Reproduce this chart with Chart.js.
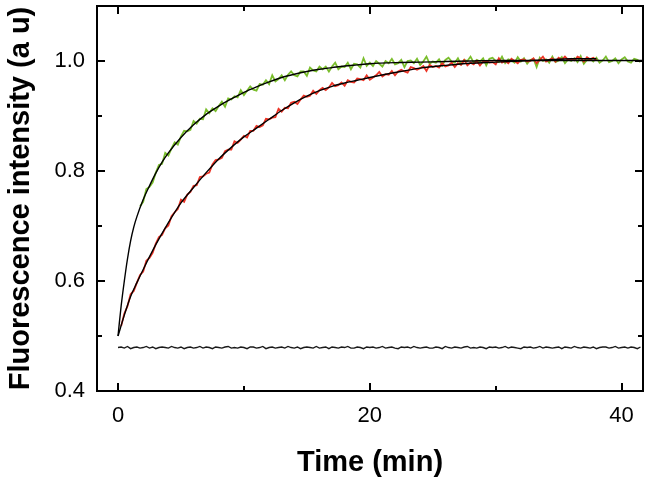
<!DOCTYPE html>
<html>
<head>
<meta charset="utf-8">
<title>Fluorescence kinetics</title>
<script src="https://cdn.jsdelivr.net/npm/chart.js@4.4.1/dist/chart.umd.min.js"></script>
<style>
    html, body { margin: 0; padding: 0; background: #ffffff; }
    #chart-wrap { width: 650px; height: 483px; position: relative; }
</style>
</head>
<body>
<div id="chart-wrap"><canvas id="kinetics-chart"></canvas></div>
<script>
// Traces were recorded every 0.25 min
const SAMPLE_STEP = 0.25;

// Axis ticks
const xLabelTicks = [0, 20, 40];
const xMinorTicks = [10, 30];
const yLabelTicks = [0.4, 0.6, 0.8, 1.0];
const yMinorTicks = [0.5, 0.7, 0.9];

// Green trace (starts at 1.75 min)
const greenStart = 1.75;
const greenTrace = [
    0.736, 0.744, 0.767, 0.771, 0.779, 0.797, 0.811, 0.813, 0.833, 0.828,
    0.841, 0.852, 0.848, 0.863, 0.873, 0.872, 0.875, 0.891, 0.886, 0.895,
    0.894, 0.912, 0.905, 0.914, 0.909, 0.918, 0.926, 0.917, 0.932, 0.930,
    0.936, 0.934, 0.947, 0.938, 0.946, 0.954, 0.948, 0.946, 0.958, 0.957,
    0.965, 0.958, 0.974, 0.963, 0.967, 0.974, 0.965, 0.975, 0.981, 0.974,
    0.972, 0.981, 0.981, 0.973, 0.988, 0.983, 0.981, 0.990, 0.985, 0.990,
    0.981, 0.990, 0.997, 0.985, 0.990, 0.989, 0.997, 0.985, 0.995, 0.994,
    0.988, 1.005, 0.991, 0.997, 0.991, 1.000, 0.995, 0.990, 1.000, 0.996,
    1.004, 0.994, 0.996, 1.002, 0.989, 1.000, 1.001, 0.996, 1.004, 0.993,
    0.999, 1.008, 0.995, 0.999, 0.997, 1.003, 0.992, 1.002, 1.006, 0.999,
    0.997, 1.005, 0.994, 1.002, 1.000, 1.008, 0.997, 1.002, 0.999, 1.005,
    0.992, 1.004, 1.006, 1.000, 0.998, 1.008, 0.996, 1.003, 1.001, 0.997,
    1.007, 0.999, 1.005, 0.995, 1.002, 1.004, 0.989, 1.006, 1.000, 1.003,
    0.997, 1.008, 0.998, 1.001, 1.007, 0.996, 1.003, 1.000, 1.005, 0.998,
    1.009, 0.995, 1.002, 1.004, 0.999, 1.006, 0.997, 1.001, 1.008, 0.998,
    1.000, 1.005, 0.996, 1.003, 1.007, 0.999, 0.997, 1.004, 1.002, 0.998
];

// Red trace (starts at 0.25 min)
const redStart = 0.25;
const redTrace = [
    0.518, 0.541, 0.554, 0.576, 0.582, 0.597, 0.611, 0.617, 0.637, 0.642,
    0.651, 0.668, 0.680, 0.684, 0.696, 0.701, 0.718, 0.725, 0.731, 0.748,
    0.744, 0.757, 0.762, 0.773, 0.774, 0.789, 0.790, 0.795, 0.797, 0.812,
    0.820, 0.821, 0.824, 0.836, 0.839, 0.839, 0.854, 0.851, 0.857, 0.864,
    0.861, 0.873, 0.873, 0.882, 0.880, 0.883, 0.895, 0.894, 0.897, 0.898,
    0.913, 0.908, 0.915, 0.914, 0.924, 0.926, 0.922, 0.930, 0.937, 0.935,
    0.937, 0.946, 0.940, 0.947, 0.951, 0.947, 0.952, 0.960, 0.954, 0.956,
    0.961, 0.955, 0.965, 0.962, 0.961, 0.968, 0.967, 0.965, 0.974, 0.966,
    0.970, 0.974, 0.980, 0.972, 0.976, 0.975, 0.982, 0.974, 0.981, 0.984,
    0.981, 0.979, 0.989, 0.987, 0.984, 0.987, 0.991, 0.982, 0.993, 0.989,
    0.991, 0.988, 0.996, 0.990, 0.992, 0.997, 0.989, 0.996, 0.993, 1.002,
    0.992, 0.997, 0.994, 1.000, 0.992, 0.999, 1.000, 0.997, 0.998, 0.994,
    1.005, 0.997, 1.000, 0.996, 1.004, 1.000, 0.996, 1.002, 1.003, 0.999,
    1.000, 1.005, 0.996, 1.002, 1.008, 0.999, 1.002, 1.005, 0.999, 1.006,
    1.002, 1.008, 1.002, 1.004, 1.001, 1.008, 1.005, 0.999, 1.007, 1.003,
    1.006, 1.002
];

// Black baseline trace (starts at 0 min)
const baselineStart = 0;
const baselineTrace = [
    0.479, 0.480, 0.478, 0.481, 0.477, 0.479, 0.480, 0.478, 0.479, 0.481, 0.478, 0.480, 0.477, 0.479, 0.480, 0.479, 0.478, 0.481, 0.479, 0.478,
    0.480, 0.477, 0.479, 0.480, 0.478, 0.479, 0.481, 0.478, 0.480, 0.479, 0.477, 0.480, 0.479, 0.478, 0.480, 0.481, 0.478, 0.479, 0.478, 0.480,
    0.479, 0.477, 0.480, 0.480, 0.478, 0.479, 0.481, 0.477, 0.479, 0.480, 0.478, 0.479, 0.480, 0.478, 0.481, 0.479, 0.478, 0.480, 0.477, 0.479,
    0.480, 0.479, 0.478, 0.481, 0.478, 0.479, 0.480, 0.477, 0.480, 0.479, 0.478, 0.480, 0.479, 0.481, 0.478, 0.478, 0.480, 0.479, 0.477, 0.480,
    0.479, 0.480, 0.478, 0.479, 0.481, 0.478, 0.479, 0.480, 0.478, 0.477, 0.480, 0.479, 0.480, 0.478, 0.481, 0.479, 0.478, 0.479, 0.480, 0.478,
    0.478, 0.480, 0.479, 0.477, 0.481, 0.479, 0.478, 0.480, 0.479, 0.478, 0.480, 0.481, 0.478, 0.479, 0.478, 0.480, 0.479, 0.477, 0.480, 0.479,
    0.480, 0.478, 0.479, 0.481, 0.478, 0.480, 0.479, 0.478, 0.477, 0.480, 0.479, 0.480, 0.478, 0.479, 0.481, 0.478, 0.480, 0.479, 0.478, 0.479,
    0.480, 0.477, 0.480, 0.479, 0.478, 0.481, 0.479, 0.478, 0.480, 0.479, 0.478, 0.480, 0.477, 0.479, 0.480, 0.480, 0.478, 0.479, 0.481, 0.478,
    0.479, 0.480, 0.478, 0.480, 0.479, 0.477, 0.480
];

// Fitted curves (black), read at these times
const greenFitTimes = [0, 0.1, 0.25, 0.5, 0.75, 1, 1.25, 1.5, 2, 2.5, 3, 3.5, 4, 5, 6, 7, 8, 9, 10, 11, 12, 13, 14, 15, 16, 17, 18, 19, 20, 22, 24, 26, 28, 30, 35, 41.7];
const greenFit = [0.500, 0.523, 0.555, 0.600, 0.640, 0.673, 0.698, 0.717, 0.748, 0.773, 0.796, 0.816, 0.833, 0.861, 0.884, 0.903, 0.918, 0.931, 0.943, 0.953, 0.962, 0.970, 0.976, 0.981, 0.985, 0.988, 0.991, 0.993, 0.995, 0.997, 0.998, 0.999, 1.000, 1.001, 1.001, 1.001];
const redFitTimes = [0, 0.5, 1, 1.5, 2, 3, 4, 5, 6, 7, 8, 9, 10, 11, 12, 13, 14, 15, 16, 17, 18, 19, 20, 22, 24, 26, 28, 30, 32, 34, 36, 38];
const redFit = [0.500, 0.538, 0.572, 0.597, 0.621, 0.666, 0.706, 0.742, 0.770, 0.797, 0.822, 0.843, 0.862, 0.878, 0.894, 0.910, 0.924, 0.936, 0.946, 0.954, 0.960, 0.965, 0.970, 0.979, 0.987, 0.992, 0.996, 0.998, 1.000, 1.002, 1.004, 1.004];

// Turn a trace sampled every SAMPLE_STEP into {x, y} points
function tracePoints(start, values) {
    return values.map((v, i) => ({ x: start + i * SAMPLE_STEP, y: v }));
}

function pairPoints(times, values) {
    return times.map((t, i) => ({ x: t, y: values[i] }));
}

// Frame on all four sides with inward ticks
const frameTicks = {
    id: 'frameTicks',
    afterDatasetsDraw(chart) {
        const { ctx, chartArea: a, scales: { x, y } } = chart;
        ctx.save();
        ctx.strokeStyle = '#000000';
        ctx.lineWidth = 2;
        ctx.strokeRect(a.left, a.top, a.right - a.left, a.bottom - a.top);

        ctx.beginPath();
        const xTick = (v, len) => {
            const px = Math.round(x.getPixelForValue(v));
            ctx.moveTo(px, a.bottom); ctx.lineTo(px, a.bottom - len);
            ctx.moveTo(px, a.top); ctx.lineTo(px, a.top + len);
        };
        const yTick = (v, len) => {
            const py = Math.round(y.getPixelForValue(v));
            ctx.moveTo(a.left, py); ctx.lineTo(a.left + len, py);
            ctx.moveTo(a.right, py); ctx.lineTo(a.right - len, py);
        };
        xLabelTicks.forEach(v => xTick(v, 8));
        xMinorTicks.forEach(v => xTick(v, 5));
        yLabelTicks.forEach(v => yTick(v, 8));
        yMinorTicks.forEach(v => yTick(v, 5));
        ctx.stroke();
        ctx.restore();
    }
};

const tickFont = { family: "'Liberation Sans', Arial, sans-serif", size: 22 };
const titleFont = { family: "'Liberation Sans', Arial, sans-serif", size: 29, weight: 'bold', lineHeight: 1.2 };

document.addEventListener('DOMContentLoaded', () => {
    const ctx = document.getElementById('kinetics-chart');

    new Chart(ctx, {
        type: 'line',
        data: {
            datasets: [{
                label: 'Fit (green)',
                data: pairPoints(greenFitTimes, greenFit),
                borderColor: '#000000',
                borderWidth: 1.4,
                pointRadius: 0,
                cubicInterpolationMode: 'monotone'
            }, {
                label: 'Fit (red)',
                data: pairPoints(redFitTimes, redFit),
                borderColor: '#000000',
                borderWidth: 1.4,
                pointRadius: 0,
                cubicInterpolationMode: 'monotone'
            }, {
                label: 'Baseline',
                data: tracePoints(baselineStart, baselineTrace),
                borderColor: '#1a1a1a',
                borderWidth: 1.4,
                pointRadius: 0,
                tension: 0
            }, {
                label: 'Red',
                data: tracePoints(redStart, redTrace),
                borderColor: 'rgb(236, 52, 38)',
                borderWidth: 1.8,
                pointRadius: 0,
                tension: 0
            }, {
                label: 'Green',
                data: tracePoints(greenStart, greenTrace),
                borderColor: 'rgb(122, 190, 44)',
                borderWidth: 1.8,
                pointRadius: 0,
                tension: 0
            }]
        },
        options: {
            responsive: true,
            maintainAspectRatio: false,
            animation: false,
            events: [],
            layout: { padding: { top: 6, right: 7, left: 0, bottom: 0 } },
            plugins: {
                legend: { display: false },
                tooltip: { enabled: false }
            },
            scales: {
                x: {
                    type: 'linear',
                    min: -1.67,
                    max: 41.7,
                    grid: { display: false, drawTicks: false },
                    border: { display: false },
                    afterBuildTicks: scale => { scale.ticks = xLabelTicks.map(v => ({ value: v })); },
                    afterFit: scale => { scale.height = 92; scale.paddingLeft = 0; scale.paddingRight = 0; },
                    ticks: {
                        font: tickFont,
                        color: '#000000',
                        padding: 12,
                        maxRotation: 0,
                        callback: v => String(v)
                    },
                    title: {
                        display: true,
                        text: 'Time (min)',
                        font: titleFont,
                        color: '#000000',
                        padding: { top: 0, bottom: 3 }
                    }
                },
                y: {
                    min: 0.4,
                    max: 1.1,
                    grid: { display: false, drawTicks: false },
                    border: { display: false },
                    afterBuildTicks: scale => { scale.ticks = yLabelTicks.map(v => ({ value: v })); },
                    afterFit: scale => { scale.width = 97; scale.paddingTop = 0; scale.paddingBottom = 0; },
                    ticks: {
                        font: tickFont,
                        color: '#000000',
                        padding: 12,
                        callback: v => v.toFixed(1)
                    },
                    title: {
                        display: true,
                        text: 'Fluorescence intensity (a u)',
                        font: titleFont,
                        color: '#000000',
                        padding: { top: 4, bottom: 0 }
                    }
                }
            }
        },
        plugins: [frameTicks]
    });
});
</script>
</body>
</html>
